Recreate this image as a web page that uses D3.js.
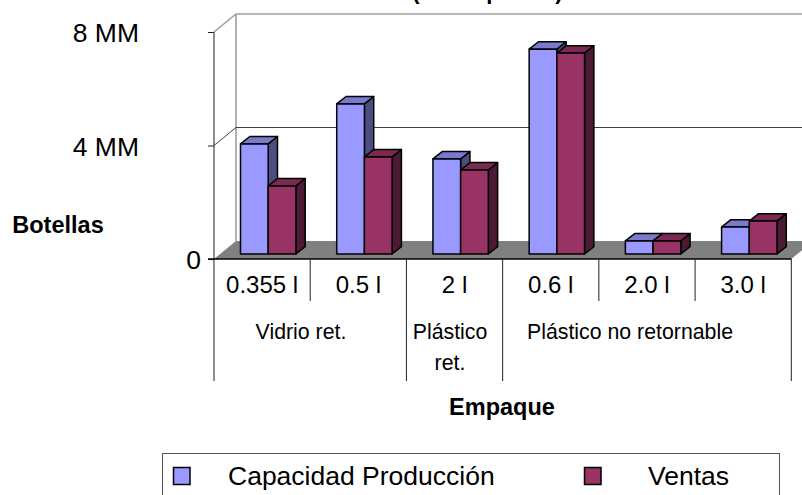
<!DOCTYPE html>
<html>
<head>
<meta charset="utf-8">
<script src="https://cdn.jsdelivr.net/npm/d3@7"></script>
<style>
html, body { margin: 0; padding: 0; background: #fff; overflow: hidden; }
svg { display: block; }
text { font-family: "Liberation Sans", Arial, sans-serif; fill: #000; }
</style>
</head>
<body>
<script>
// datos (millones de botellas)
const categories = ['0.355 l', '0.5 l', '2 l', '0.6 l', '2.0 l', '3.0 l'];
const capacidad = [3.88, 5.29, 3.35, 7.22, 0.46, 0.95];
const ventas = [2.40, 3.42, 2.96, 7.08, 0.46, 1.16];
const yTicks = [0, 4, 8];
const yTickLabels = ['0', '4 MM', '8 MM'];
const seriesNames = ['Capacidad Producción', 'Ventas'];
const groupNames = [['Vidrio ret.'], ['Plástico', 'ret.'], ['Plástico no retornable']];
const groupSizes = [2, 1, 3];
// el titulo esta cortado arriba, solo se ven estos trozos
const titleParts = ['(', 'p', ')'];

const width = 802, height = 495;

// colores: frente, tapa, lado
const colors = [
    { front: '#9999ff', top: '#7a7acc', side: '#4d4d80' },
    { front: '#993366', top: '#7a2952', side: '#4d1a33' }
];

const x = d3.scaleBand().domain(categories).range([214, 791.3]);
const y = d3.scaleLinear().domain([0, 8]).range([259, 32]);

const wallX = 22, wallY = 18;      // profundidad de la pared
const barX = 9.3, barY = 7.4;      // profundidad de la barra
const barW = 27.7;
const barOffset = 26.5, barLift = 5;

const svg = d3.select('body').append('svg')
    .attr('width', width)
    .attr('height', height);

// titulo cortado
const titleX = [416, 493, 559];
svg.selectAll('text.title')
    .data(titleParts)
    .join('text')
    .attr('class', 'title')
    .attr('x', (d, i) => titleX[i])
    .attr('y', -1.5)
    .attr('text-anchor', 'middle')
    .style('font-size', '22px')
    .style('font-weight', 'bold')
    .text(d => d);

// piso
const x0 = x.range()[0], x1 = x.range()[1];
svg.append('polygon')
    .attr('points', [[x0, y(0)], [x1, y(0)], [x1 + wallX, y(0) - wallY], [x0 + wallX, y(0) - wallY]].join(' '))
    .attr('fill', '#808080');

// pared del fondo
svg.append('path')
    .attr('d', `M${x0},${y(8)}L${x0 + wallX},${y(8) - wallY}L${width},${y(8) - wallY}M${x0 + wallX},${y(8) - wallY}V${y(0) - wallY}`)
    .attr('fill', 'none')
    .attr('stroke', '#a0a0a0')
    .attr('stroke-width', 1.6);

// lineas de la cuadricula
svg.append('path')
    .attr('d', `M${x0},${y(4)}L${x0 + wallX},${y(4) - wallY}H${width}`)
    .attr('fill', 'none')
    .attr('stroke', '#404040')
    .attr('stroke-width', 1);

// barras
const rows = categories.map((c, i) => ({ c, vals: [capacidad[i], ventas[i]] }));

const groups = svg.selectAll('g.cat')
    .data(rows)
    .join('g')
    .attr('class', 'cat')
    .attr('transform', d => `translate(${x(d.c) + barOffset},${-barLift})`);

const bars = groups.selectAll('g.bar')
    .data(d => d.vals.map((v, s) => ({ v, s })))
    .join('g')
    .attr('class', 'bar')
    .attr('stroke', '#000')
    .attr('stroke-width', 1.5)
    .attr('stroke-linejoin', 'round');

bars.append('polygon')
    .attr('points', d => {
        const l = d.s * barW;
        return [[l + barW, y(d.v)], [l + barW + barX, y(d.v) - barY], [l + barW + barX, y(0) - barY], [l + barW, y(0)]].join(' ');
    })
    .attr('fill', d => colors[d.s].side);

bars.append('polygon')
    .attr('points', d => {
        const l = d.s * barW;
        return [[l, y(d.v)], [l + barX, y(d.v) - barY], [l + barW + barX, y(d.v) - barY], [l + barW, y(d.v)]].join(' ');
    })
    .attr('fill', d => colors[d.s].top);

bars.append('rect')
    .attr('x', d => d.s * barW)
    .attr('y', d => y(d.v))
    .attr('width', barW)
    .attr('height', d => y(0) - y(d.v))
    .attr('fill', d => colors[d.s].front);

// eje y
const yAxis = svg.append('g')
    .attr('transform', `translate(${x0},0)`)
    .call(d3.axisLeft(y).tickValues(yTicks).tickFormat((d, i) => yTickLabels[i]).tickSize(6).tickPadding(13));
yAxis.select('.domain').remove();
yAxis.selectAll('line').attr('stroke', '#222').attr('stroke-width', 1);
yAxis.selectAll('text')
    .style('font-size', '26.5px')
    .style('font-family', '"Liberation Sans", Arial, sans-serif')
    .attr('dy', '0.36em')
    .attr('x', d => d === 0 ? -13 : -75);

// linea vertical del eje y separadores
svg.append('line')
    .attr('x1', x0).attr('x2', x0).attr('y1', y(8)).attr('y2', 381)
    .attr('stroke', '#444').attr('stroke-width', 1.2);

svg.append('line')
    .attr('x1', x0 - 6).attr('x2', x1).attr('y1', y(0)).attr('y2', y(0))
    .attr('stroke', '#000').attr('stroke-width', 1.5);

// eje x: etiquetas de categorias
const xAxis = svg.append('g')
    .attr('transform', `translate(0,${y(0)})`)
    .call(d3.axisBottom(x).tickSize(0).tickPadding(17));
xAxis.select('.domain').remove();
xAxis.selectAll('text')
    .style('font-size', '24px')
    .style('font-family', '"Liberation Sans", Arial, sans-serif');

// separadores entre categorias y grupos
let acc = 0;
const majorEnds = groupSizes.map(n => (acc += n));
categories.forEach((c, i) => {
    const major = majorEnds.includes(i + 1);
    svg.append('line')
        .attr('x1', x(c) + x.bandwidth()).attr('x2', x(c) + x.bandwidth())
        .attr('y1', y(0)).attr('y2', major ? 381 : 301)
        .attr('stroke', '#222').attr('stroke-width', 1);
});

// nombres de los grupos
const groupX = [301, 450, 630];
groupNames.forEach((lines, g) => {
    lines.forEach((t, k) => {
        svg.append('text')
            .attr('x', groupX[g])
            .attr('y', 339 + k * 31)
            .attr('text-anchor', 'middle')
            .style('font-size', '21.3px')
            .text(t);
    });
});

// titulos de los ejes
svg.append('text')
    .attr('x', 58).attr('y', 233)
    .attr('text-anchor', 'middle')
    .style('font-size', '23.5px').style('font-weight', 'bold')
    .text('Botellas');

svg.append('text')
    .attr('x', 502).attr('y', 415)
    .attr('text-anchor', 'middle')
    .style('font-size', '23.5px').style('font-weight', 'bold')
    .text('Empaque');

// leyenda
svg.append('rect')
    .attr('x', 162.5).attr('y', 453.5)
    .attr('width', 617).attr('height', 60)
    .attr('fill', 'none')
    .attr('stroke', '#555').attr('stroke-width', 1);

const legendBoxX = [173.5, 584.5];
const legendTextX = [228, 648];
seriesNames.forEach((name, i) => {
    svg.append('rect')
        .attr('x', legendBoxX[i]).attr('y', 467.5)
        .attr('width', 16.5).attr('height', 17)
        .attr('fill', colors[i].front)
        .attr('stroke', '#000').attr('stroke-width', 1.5);
    svg.append('text')
        .attr('x', legendTextX[i]).attr('y', 485)
        .style('font-size', '26.5px')
        .text(name);
});
</script>
</body>
</html>
